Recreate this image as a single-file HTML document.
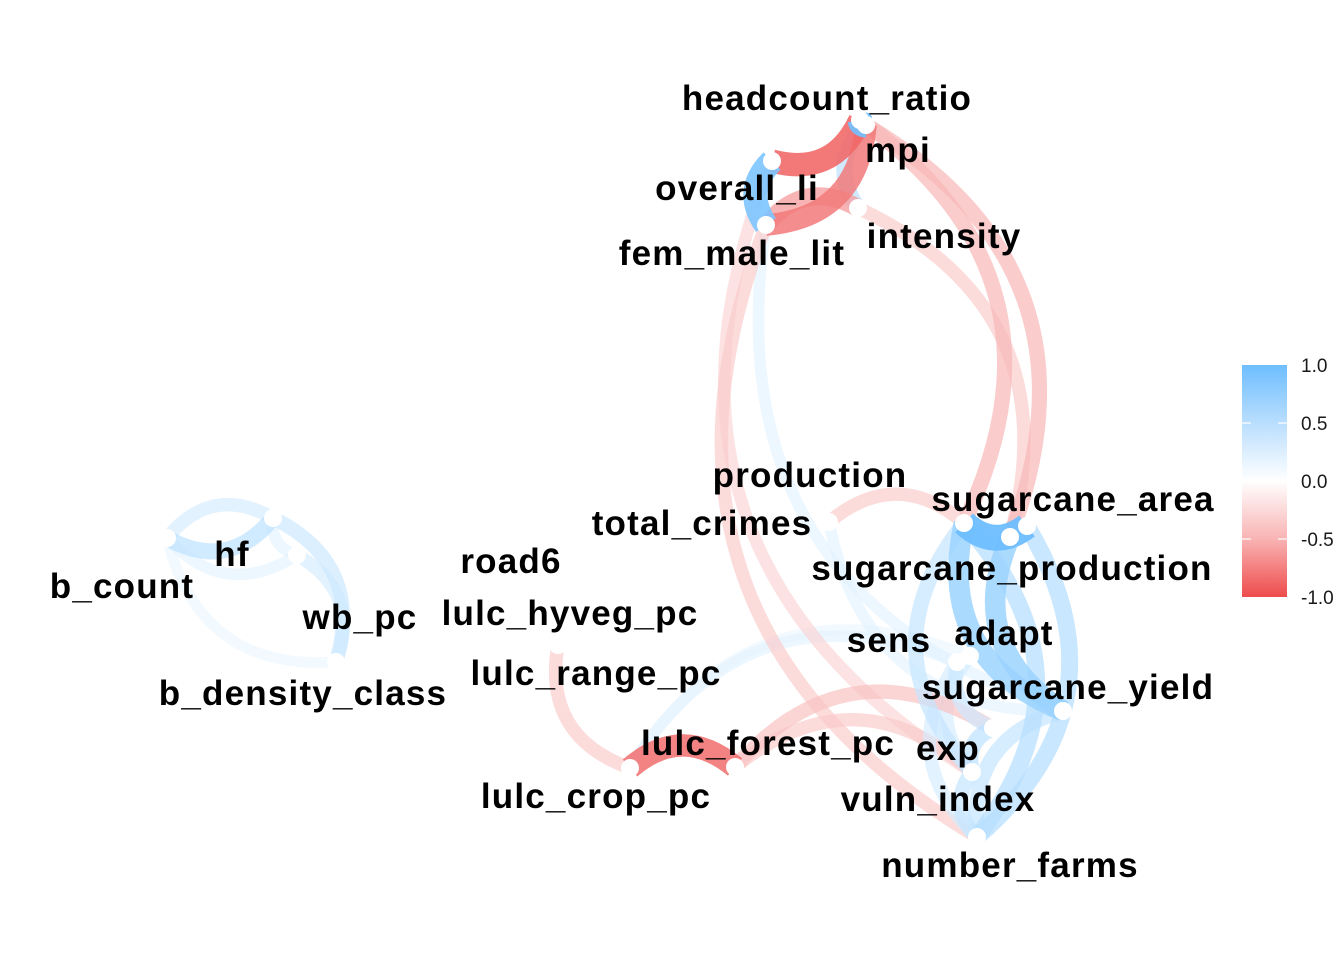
<!DOCTYPE html>
<html><head><meta charset="utf-8"><style>
html,body{margin:0;padding:0;background:#fff;}
svg{display:block;font-family:"Liberation Sans",sans-serif;}
.lbl{font-weight:bold;font-size:35px;letter-spacing:1.2px;fill:#000;text-anchor:middle;}
.leg{font-size:19px;fill:#1a1a1a;}
</style></head><body>
<svg id="chart" width="1344" height="960" viewBox="0 0 1344 960">
<defs>
<linearGradient id="lg" x1="0" y1="0" x2="0" y2="1">
<stop offset="0" stop-color="#6ebeff"/><stop offset="0.25" stop-color="#b9defe"/><stop offset="0.5" stop-color="#ffffff"/><stop offset="0.75" stop-color="#f9b3b3"/><stop offset="1" stop-color="#ee4c4c"/>
</linearGradient>
</defs>
<g id="edges"></g>
<g id="nodes"></g>
<g id="labels"></g>
<g>
<rect x="1242" y="365" width="45" height="232" fill="url(#lg)"/>
<g id="legticks"></g>
</g>
</svg>
<script>
const nodeNames=["headcount_ratio","mpi","overall_li","fem_male_lit","intensity","production","total_crimes","sugarcane_area","sugarcane_production","road6","lulc_hyveg_pc","lulc_range_pc","sens","adapt","sugarcane_yield","lulc_forest_pc","exp","lulc_crop_pc","vuln_index","number_farms","hf","b_count","wb_pc","b_density_class"];
const nodeX=[860,866,772,766,858,1027,829,964,1010,558,558,558,957,970,1063,735,993,630,972,977,273,167,297,336];
const nodeY=[120,125,161,225,208,526,522,523,537,645,645,645,662,656,711,767,728,768,772,837,518,538,555,662];
const labelX=[827,898,737,732,944,810,702,1073,1012,511,570,596,889,1004,1068,768,948,596,938,1010,232,122,360,303];
const labelY=[110,162,200,265,248,487,535,511,580,573,625,685,652,645,699,755,760,808,811,877,566,598,629,705];
const edgeFrom=["overall_li","fem_male_lit","headcount_ratio","overall_li","mpi","intensity","sugarcane_area","sugarcane_production","sugarcane_production","fem_male_lit","overall_li","fem_male_lit","lulc_range_pc","lulc_forest_pc","exp","vuln_index","sens","adapt","sugarcane_area","total_crimes","sugarcane_area","sugarcane_area","sugarcane_production","number_farms","number_farms","sugarcane_area","sens","adapt","exp","vuln_index","sugarcane_yield","sens","hf","b_count","b_count","b_density_class","b_density_class","b_count","hf"];
const edgeTo=["headcount_ratio","mpi","mpi","fem_male_lit","intensity","fem_male_lit","headcount_ratio","mpi","intensity","number_farms","vuln_index","sugarcane_yield","lulc_crop_pc","lulc_crop_pc","lulc_forest_pc","lulc_forest_pc","lulc_crop_pc","lulc_crop_pc","total_crimes","sugarcane_yield","production","sugarcane_yield","sugarcane_yield","sugarcane_area","production","vuln_index","exp","vuln_index","vuln_index","number_farms","number_farms","number_farms","b_count","wb_pc","hf","hf","wb_pc","b_density_class","wb_pc"];
const edgeR=[-0.85,-0.75,0.95,0.9,0.45,-0.55,-0.4,-0.4,-0.3,-0.3,-0.25,0.2,-0.3,-0.8,-0.35,-0.3,0.2,0.15,-0.3,0.2,1.0,0.7,0.7,0.5,0.5,0.4,0.35,0.3,0.45,0.4,0.4,0.3,0.3,0.2,0.45,0.35,0.3,0.15,0.2];
const legVals=[1.0,0.5,0.0,-0.5,-1.0];
const legLabels=["1.0","0.5","0.0","-0.5","-1.0"];

const NS="http://www.w3.org/2000/svg";
function idx(n){return nodeNames.indexOf(n);}
function col(r){
  const a=Math.abs(r);
  const c=r>=0?[110,190,255]:[238,76,76];
  const m=v=>Math.round(255+(v-255)*a);
  return `rgb(${m(c[0])},${m(c[1])},${m(c[2])})`;
}
function legY(v){return 365+(1-v)/2*232;}
const eg=document.getElementById('edges');
const order=edgeR.map((r,i)=>i).sort((a,b)=>Math.abs(edgeR[a])-Math.abs(edgeR[b]));
order.forEach(i=>{
  const a=idx(edgeFrom[i]),b=idx(edgeTo[i]);
  const x1=nodeX[a],y1=nodeY[a],x2=nodeX[b],y2=nodeY[b];
  const dx=x2-x1,dy=y2-y1;
  const k=0.42;
  const cx=(x1+x2)/2-dy*k,cy=(y1+y2)/2+dx*k;
  const p=document.createElementNS(NS,'path');
  p.setAttribute('d',`M${x1},${y1} Q${cx},${cy} ${x2},${y2}`);
  p.setAttribute('fill','none');
  p.setAttribute('stroke',col(edgeR[i]));
  p.setAttribute('stroke-width',8+18*Math.abs(edgeR[i]));
  p.setAttribute('stroke-opacity',0.55+0.4*Math.abs(edgeR[i]));
  
  
  eg.appendChild(p);
});
const ng=document.getElementById('nodes');
nodeNames.forEach((n,i)=>{
  const c=document.createElementNS(NS,'circle');
  c.setAttribute('cx',nodeX[i]);c.setAttribute('cy',nodeY[i]);c.setAttribute('r',9);
  c.setAttribute('fill','#fff');
  
  
  ng.appendChild(c);
});
const lg=document.getElementById('labels');
nodeNames.forEach((n,i)=>{
  const t=document.createElementNS(NS,'text');
  t.setAttribute('x',labelX[i]);t.setAttribute('y',labelY[i]);
  t.setAttribute('class','lbl');
  t.textContent=n;
  
  
  lg.appendChild(t);
});
const tg=document.getElementById('legticks');
legVals.forEach((v,i)=>{
  const y=legY(v);
  if(i>0&&i<legVals.length-1){
    [1242,1278].forEach(x=>{
      const l=document.createElementNS(NS,'line');
      l.setAttribute('x1',x);l.setAttribute('x2',x+9);l.setAttribute('y1',y);l.setAttribute('y2',y);
      l.setAttribute('stroke','#fff');l.setAttribute('stroke-width',1.2);
      
      
      tg.appendChild(l);
    });
  }
  const t=document.createElementNS(NS,'text');
  t.setAttribute('x',1301);t.setAttribute('y',y+7);
  t.setAttribute('class','leg');
  t.textContent=legLabels[i];
  
  
  tg.appendChild(t);
});
</script>
</body></html>
